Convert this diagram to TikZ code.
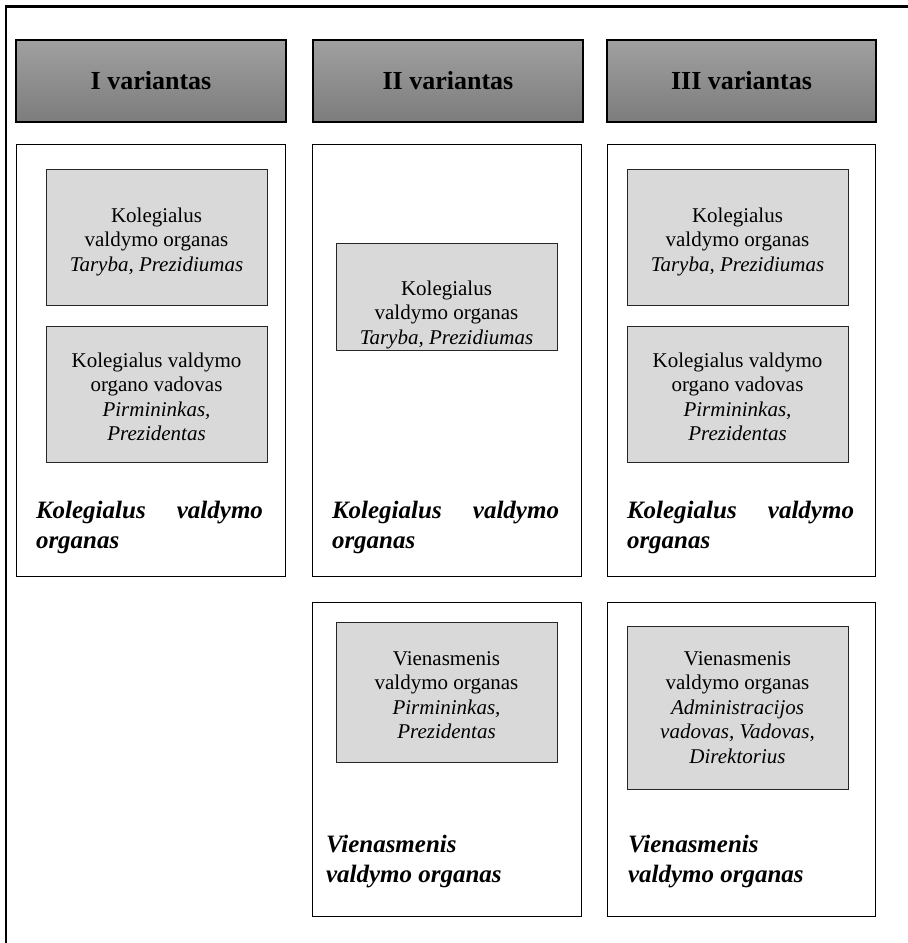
\documentclass[tikz,border=0pt]{standalone}
\usepackage{fontspec}
\setmainfont{Liberation Serif}
\definecolor{hdtop}{RGB}{160,160,160}
\definecolor{hdbot}{RGB}{124,124,124}
\definecolor{boxgray}{RGB}{217,217,217}
\newcommand{\boxtxt}[1]{\parbox[t]{215pt}{\centering #1}}
\begin{document}
\begin{tikzpicture}[x=1pt,y=-1pt,
  header/.style={draw=black, line width=1.2pt, top color=hdtop, bottom color=hdbot,
    inner sep=0pt, outer sep=0pt, anchor=north west,
    font=\fontsize{26}{30}\selectfont\bfseries},
  panel/.style={draw=black, line width=0.9pt, fill=white, inner sep=0pt, outer sep=0pt, anchor=north west},
  graybox/.style={draw=black!85, line width=0.9pt, fill=boxgray, inner sep=0pt, outer sep=0pt, anchor=north west},
  gtext/.style={inner sep=0pt, outer sep=0pt, anchor=base, font=\fontsize{21}{24.6}\selectfont},
  lbl/.style={inner sep=0pt, outer sep=0pt, anchor=base west, font=\fontsize{25}{30}\selectfont\bfseries\itshape}
]
\useasboundingbox (0,0) rectangle (908,943);
% outer frame (top and left visible)
\draw[line width=2.2pt] (6,943) -- (6,6.5) -- (908,6.5);

% headers
\node[header, minimum width=270pt, minimum height=82pt] (h1) at (16,40) {I variantas};
\node[header, minimum width=270pt, minimum height=82pt] (h2) at (313,40) {II variantas};
\node[header, minimum width=269pt, minimum height=82pt] (h3) at (607,40) {III variantas};

% panels
\node[panel, minimum width=269pt, minimum height=432pt] (p1) at (16,144) {};
\node[panel, minimum width=269pt, minimum height=432pt] (p2) at (312,144) {};
\node[panel, minimum width=268pt, minimum height=432pt] (p3) at (607,144) {};
\node[panel, minimum width=269pt, minimum height=314pt] (p4) at (312,602) {};
\node[panel, minimum width=268pt, minimum height=314pt] (p5) at (607,602) {};

% gray boxes
\node[graybox, minimum width=221pt, minimum height=136pt] (b11) at (46,169) {};
\node[graybox, minimum width=221pt, minimum height=136pt] (b12) at (46,326) {};
\node[graybox, minimum width=221pt, minimum height=107pt] (b21) at (336,243) {};
\node[graybox, minimum width=221pt, minimum height=136pt] (b31) at (627,169) {};
\node[graybox, minimum width=221pt, minimum height=136pt] (b32) at (627,326) {};
\node[graybox, minimum width=221pt, minimum height=140pt] (b41) at (336,622) {};
\node[graybox, minimum width=221pt, minimum height=163pt] (b51) at (627,626) {};

% gray box texts
\node[gtext] (t11) at (156.5,222) {\boxtxt{Kolegialus\\valdymo organas\\\itshape Taryba, Prezidiumas}};
\node[gtext] (t12) at (156.5,367) {\boxtxt{Kolegialus valdymo\\organo vadovas\\\itshape Pirmininkas,\\\itshape Prezidentas}};
\node[gtext] (t21) at (446.5,295) {\boxtxt{Kolegialus\\valdymo organas\\\itshape Taryba, Prezidiumas}};
\node[gtext] (t31) at (737.5,222) {\boxtxt{Kolegialus\\valdymo organas\\\itshape Taryba, Prezidiumas}};
\node[gtext] (t32) at (737.5,367) {\boxtxt{Kolegialus valdymo\\organo vadovas\\\itshape Pirmininkas,\\\itshape Prezidentas}};
\node[gtext] (t41) at (446.5,665) {\boxtxt{Vienasmenis\\valdymo organas\\\itshape Pirmininkas,\\\itshape Prezidentas}};
\node[gtext] (t51) at (737.5,665) {\boxtxt{Vienasmenis\\valdymo organas\\\itshape Administracijos\\\itshape vadovas, Vadovas,\\\itshape Direktorius}};

% labels
\node[lbl] (l1) at (36,518) {\parbox[t]{227pt}{\hyphenpenalty10000 Kolegialus valdymo organas}};
\node[lbl] (l2) at (332,518) {\parbox[t]{227pt}{\hyphenpenalty10000 Kolegialus valdymo organas}};
\node[lbl] (l3) at (627,518) {\parbox[t]{227pt}{\hyphenpenalty10000 Kolegialus valdymo organas}};
\node[lbl] (l4) at (326,852) {\parbox[t]{227pt}{\raggedright Vienasmenis\\valdymo organas}};
\node[lbl] (l5) at (628,852) {\parbox[t]{227pt}{\raggedright Vienasmenis\\valdymo organas}};
\end{tikzpicture}
\end{document}
